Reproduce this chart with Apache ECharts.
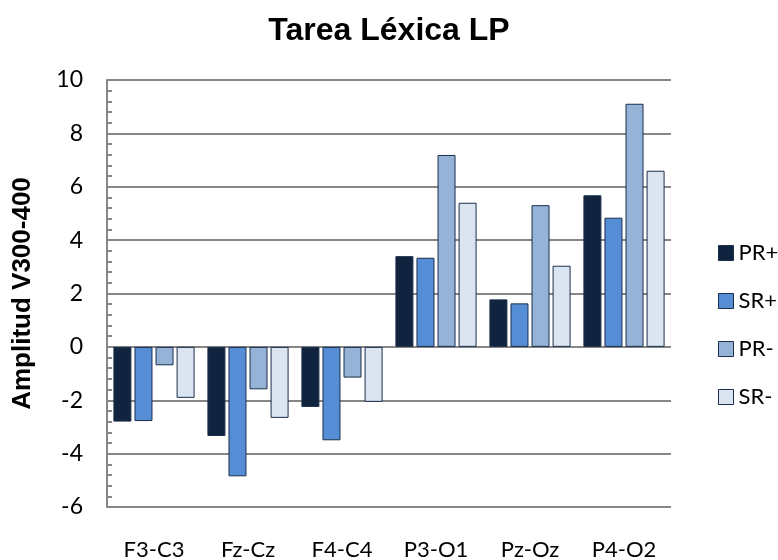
<!DOCTYPE html>
<html>
<head>
<meta charset="utf-8">
<script src="https://cdn.jsdelivr.net/npm/echarts@6/dist/echarts.min.js"></script>
<style>
  html, body { margin: 0; padding: 0; background: #fff; }
  #chart { width: 778px; height: 560px; }
</style>
</head>
<body>
<div id="chart"></div>
<script>
// datos
var categories = ["F3-C3", "Fz-Cz", "F4-C4", "P3-O1", "Pz-Oz", "P4-O2"];
var seriesNames = ["PR+", "SR+", "PR-", "SR-"];
var prPlus = [-2.8, -3.34, -2.25, 3.4, 1.78, 5.68];
var srPlus = [-2.78, -4.85, -3.5, 3.34, 1.63, 4.84];
var prMinus = [-0.69, -1.59, -1.15, 7.19, 5.31, 9.11];
var srMinus = [-1.91, -2.66, -2.06, 5.4, 3.04, 6.6];

var colors = ["#10243f", "#558ed5", "#95b3d7", "#dbe5f1"];
var values = [prPlus, srPlus, prMinus, srMinus];

var chart = echarts.init(document.getElementById("chart"));

var series = seriesNames.map(function (name, i) {
  return {
    name: name,
    type: "bar",
    data: values[i],
    barWidth: 18,
    barGap: "17%",
    itemStyle: {
      color: colors[i],
      borderColor: "#1b2e4b",
      borderWidth: 1
    }
  };
});

var option = {
  animation: false,
  title: {
    text: "Tarea Léxica LP",
    left: "center",
    top: 10,
    textStyle: {
      fontFamily: "Liberation Sans",
      fontWeight: "bold",
      fontSize: 32,
      color: "#000"
    }
  },
  legend: {
    orient: "vertical",
    left: 713,
    top: 237,
    itemWidth: 15,
    itemHeight: 15,
    itemGap: 26,
    icon: "rect",
    data: seriesNames,
    itemStyle: { borderColor: "#1b2e4b", borderWidth: 1 },
    textStyle: { fontFamily: "Lato", fontSize: 22, color: "#000" }
  },
  grid: { left: 107, right: 107, top: 80, bottom: 53, outerBoundsMode: "none", containLabel: false },
  xAxis: {
    type: "category",
    data: categories,
    position: "bottom",
    axisLine: { show: false },
    axisTick: { show: false },
    axisLabel: {
      margin: 32,
      fontFamily: "Lato",
      fontSize: 22,
      color: "#000"
    }
  },
  yAxis: {
    type: "value",
    min: -6,
    max: 10,
    interval: 2,
    name: "Amplitud V300-400",
    nameLocation: "middle",
    nameGap: 71,
    nameTextStyle: {
      fontFamily: "Liberation Sans",
      fontWeight: "bold",
      fontSize: 26,
      color: "#000"
    },
    axisLine: { show: true, lineStyle: { color: "#868686", width: 2 } },
    axisTick: { show: true, inside: true, length: 6, lineStyle: { color: "#868686", width: 2 } },
    minorTick: { show: true, splitNumber: 5, length: 5, lineStyle: { color: "#868686", width: 2 } },
    axisLabel: {
      margin: 24,
      fontFamily: "Lato",
      fontSize: 23,
      color: "#000"
    },
    splitLine: { show: true, lineStyle: { color: "#868686", width: 2 } }
  },
  series: series
};

chart.setOption(option);
</script>
</body>
</html>
